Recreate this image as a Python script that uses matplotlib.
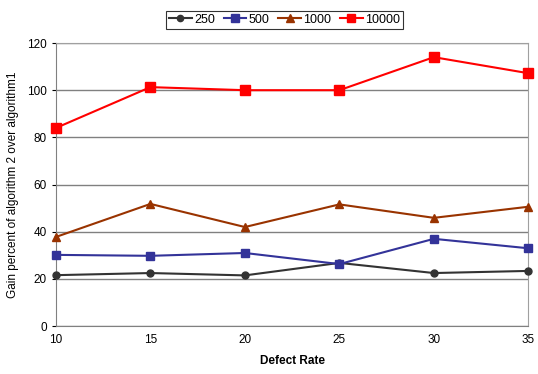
import matplotlib
matplotlib.use("Agg")
import matplotlib.pyplot as plt

plt.rcParams['font.family'] = ['Liberation Sans', 'DejaVu Sans']

defect_rate = [10, 15, 20, 25, 30, 35]
s250 = [21.6, 22.5, 21.5, 26.8, 22.5, 23.4]
s500 = [30.2, 29.8, 31.0, 26.3, 37.0, 33.0]
s1000 = [37.8, 51.8, 42.0, 51.6, 45.9, 50.6]
s10000 = [84.0, 101.3, 100.0, 100.0, 114.0, 107.2]
series_labels = ['250', '500', '1000', '10000']
yticks = [0, 20, 40, 60, 80, 100, 120]
xticks = [10, 15, 20, 25, 30, 35]

fig = plt.figure(figsize=(5.38, 3.74), dpi=100)
ax = fig.add_axes([0.104, 0.128, 0.878, 0.757])

styles = [
    (s250, '#333333', 'o', 5),
    (s500, '#333399', 's', 6),
    (s1000, '#993300', '^', 6),
    (s10000, '#FF0000', 's', 6.5),
]
for (vals, c, m, ms), lab in zip(styles, series_labels):
    ax.plot(defect_rate, vals, color=c, marker=m, markersize=ms, linewidth=1.5,
            label=lab, clip_on=False, zorder=3)

ax.set_xlim(10, 35)
ax.set_ylim(0, 120)
ax.set_xticks(xticks)
ax.set_yticks(yticks)
ax.tick_params(labelsize=8.5, length=3)
ax.tick_params(axis='x', length=0, pad=6)
ax.yaxis.grid(True, color='#808080', linewidth=1)
ax.set_axisbelow(True)
for side in ['top', 'right']:
    ax.spines[side].set_color('#a0a0a0')
ax.spines['left'].set_color('#808080')
ax.spines['bottom'].set_color('#808080')

ax.set_xlabel('Defect Rate', fontsize=8.5, fontweight='bold', labelpad=6)
ax.set_ylabel('Gain percent of algorithm 2 over algorithm1', fontsize=8.5, labelpad=6)

leg = fig.legend(loc='upper center', bbox_to_anchor=(0.529, 0.988), ncol=4, fontsize=9,
                 frameon=True, fancybox=False, edgecolor='black', handlelength=1.8,
                 handletextpad=0.2, columnspacing=0.7, borderpad=0.25, markerscale=0.9)
leg.get_frame().set_linewidth(0.8)

fig.savefig('out.png', dpi=100)
